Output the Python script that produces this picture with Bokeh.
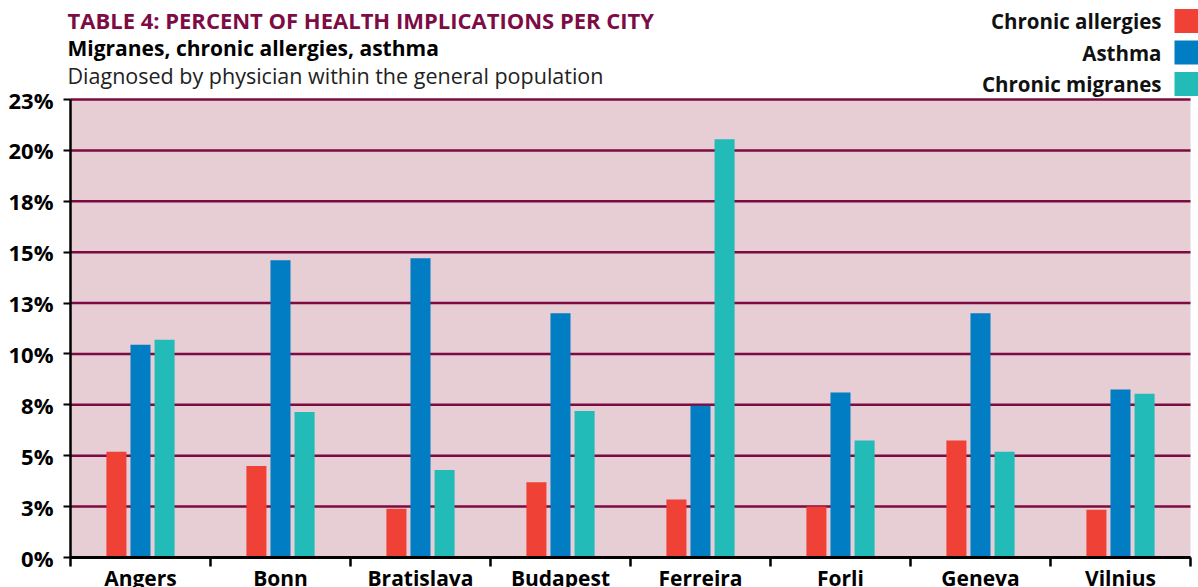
import numpy as np
from bokeh.plotting import figure
from bokeh.models import Range1d, FixedTicker, Label, BoxAnnotation
from bokeh.embed import file_html
from bokeh.resources import INLINE

# ---------------- data ----------------
cities = ["Angers", "Bonn", "Bratislava", "Budapest", "Ferreira", "Forli", "Geneva", "Vilnius"]
chronic_allergies = [5.2, 4.5, 2.4, 3.7, 2.85, 2.5, 5.75, 2.35]
asthma = [10.45, 14.6, 14.7, 12.0, 7.45, 8.1, 12.0, 8.25]
chronic_migranes = [10.7, 7.15, 4.3, 7.2, 20.55, 5.75, 5.2, 8.05]
series_names = ["Chronic allergies", "Asthma", "Chronic migranes"]
y_ticks = [0, 2.5, 5, 7.5, 10, 12.5, 15, 17.5, 20, 22.5]
y_tick_labels = ["0%", "3%", "5%", "8%", "10%", "13%", "15%", "18%", "20%", "23%"]
title = "TABLE 4: PERCENT OF HEALTH IMPLICATIONS PER CITY"
subtitle = "Migranes, chronic allergies, asthma"
note = "Diagnosed by physician within the general population"

# ---------------- style / layout ----------------
COLORS = ["#ef4136", "#007dc3", "#22bbb8"]
BG = "#e7cdd4"
GRID = "#7b0b40"
FONT = "Open Sans"
W, H = 1198, 587
PLOT_L, PLOT_R, PLOT_T, PLOT_B = 70, 1190, 99, 557   # plot area in pixels
YMAX = 22.5
n = len(cities)
kx = (PLOT_R - PLOT_L) / n
ky = (PLOT_B - PLOT_T) / YMAX


def dx(px):
    return (px - PLOT_L) / kx


def dy(py):
    return (PLOT_B - py) / ky


# frame covers the whole canvas; axes are pinned at data 0 so nothing is clipped
p = figure(width=W, height=H, output_backend="svg", toolbar_location=None,
           x_range=Range1d(dx(0), dx(W)), y_range=Range1d(dy(H), dy(0)),
           min_border=0)
p.background_fill_color = "white"
p.border_fill_color = "white"
p.outline_line_color = None
p.xgrid.visible = False
p.ygrid.visible = False

# plot background
p.add_layout(BoxAnnotation(left=0, right=n, bottom=0, top=YMAX, fill_color=BG, fill_alpha=1,
                           line_color=None, level="image"))

# horizontal grid lines across the plot area
p.segment(x0=[0] * len(y_ticks), x1=[n] * len(y_ticks), y0=y_ticks, y1=y_ticks,
          line_color=GRID, line_width=2.5)

# bars
centers = np.arange(n) + 0.5
step = 0.172
bw = 0.143
for k, (vals, col) in enumerate(zip([chronic_allergies, asthma, chronic_migranes], COLORS)):
    p.vbar(x=centers + (k - 1) * step, top=vals, bottom=0, width=bw,
           fill_color=col, line_color=None)

# y axis
ya = p.yaxis[0]
ya.fixed_location = 0
ya.bounds = (0, YMAX)
ya.ticker = FixedTicker(ticks=y_ticks)
ya.major_label_overrides = {t: l for t, l in zip(y_ticks, y_tick_labels)}
ya.axis_line_color = "black"
ya.axis_line_width = 2.5
ya.major_tick_in = 0
ya.major_tick_out = 7
ya.major_tick_line_width = 2
ya.minor_tick_line_color = None
ya.major_label_standoff = 10
ya.major_label_text_font = FONT
ya.major_label_text_font_style = "bold"
ya.major_label_text_font_size = "22px"
ya.major_label_text_color = "black"

# x axis: boundary ticks (minor), city names at centres (major, no tick)
xa = p.xaxis[0]
xa.fixed_location = 0
xa.bounds = (0, n)
xa.ticker = FixedTicker(ticks=list(centers), minor_ticks=list(range(n + 1)))
xa.major_label_overrides = {float(c): name for c, name in zip(centers, cities)}
xa.axis_line_color = "black"
xa.axis_line_width = 3
xa.major_tick_in = 0
xa.major_tick_out = 0
xa.minor_tick_in = 0
xa.minor_tick_out = 9
xa.minor_tick_line_width = 2.5
xa.minor_tick_line_color = "black"
xa.major_label_standoff = -3
xa.major_label_text_font = FONT
xa.major_label_text_font_style = "bold"
xa.major_label_text_font_size = "21px"
xa.major_label_text_color = "black"


def add_text(px, py, text, size, color="black", style="normal", align="left"):
    p.add_layout(Label(x=dx(px), y=dy(py), text=text,
                       text_font=FONT, text_font_size=size, text_font_style=style,
                       text_color=color, text_align=align, text_baseline="middle"))


add_text(67, 19, title, "22px", "#7d0c45", "bold")
add_text(67, 47, subtitle, "21px", "black", "bold")
add_text(67, 75, note, "21.5px", "#222222", "normal")

for i, (name, col) in enumerate(zip(series_names, COLORS)):
    cy = 20.5 + i * 31.5
    add_text(1161, cy, name, "20.5px", "#111111", "bold", "right")
    p.add_layout(BoxAnnotation(left=dx(1174), right=dx(1198), top=dy(cy - 12), bottom=dy(cy + 12),
                               fill_color=col, fill_alpha=1, line_color=None, level="overlay"))

open("out.html", "w").write(file_html(p, INLINE))
